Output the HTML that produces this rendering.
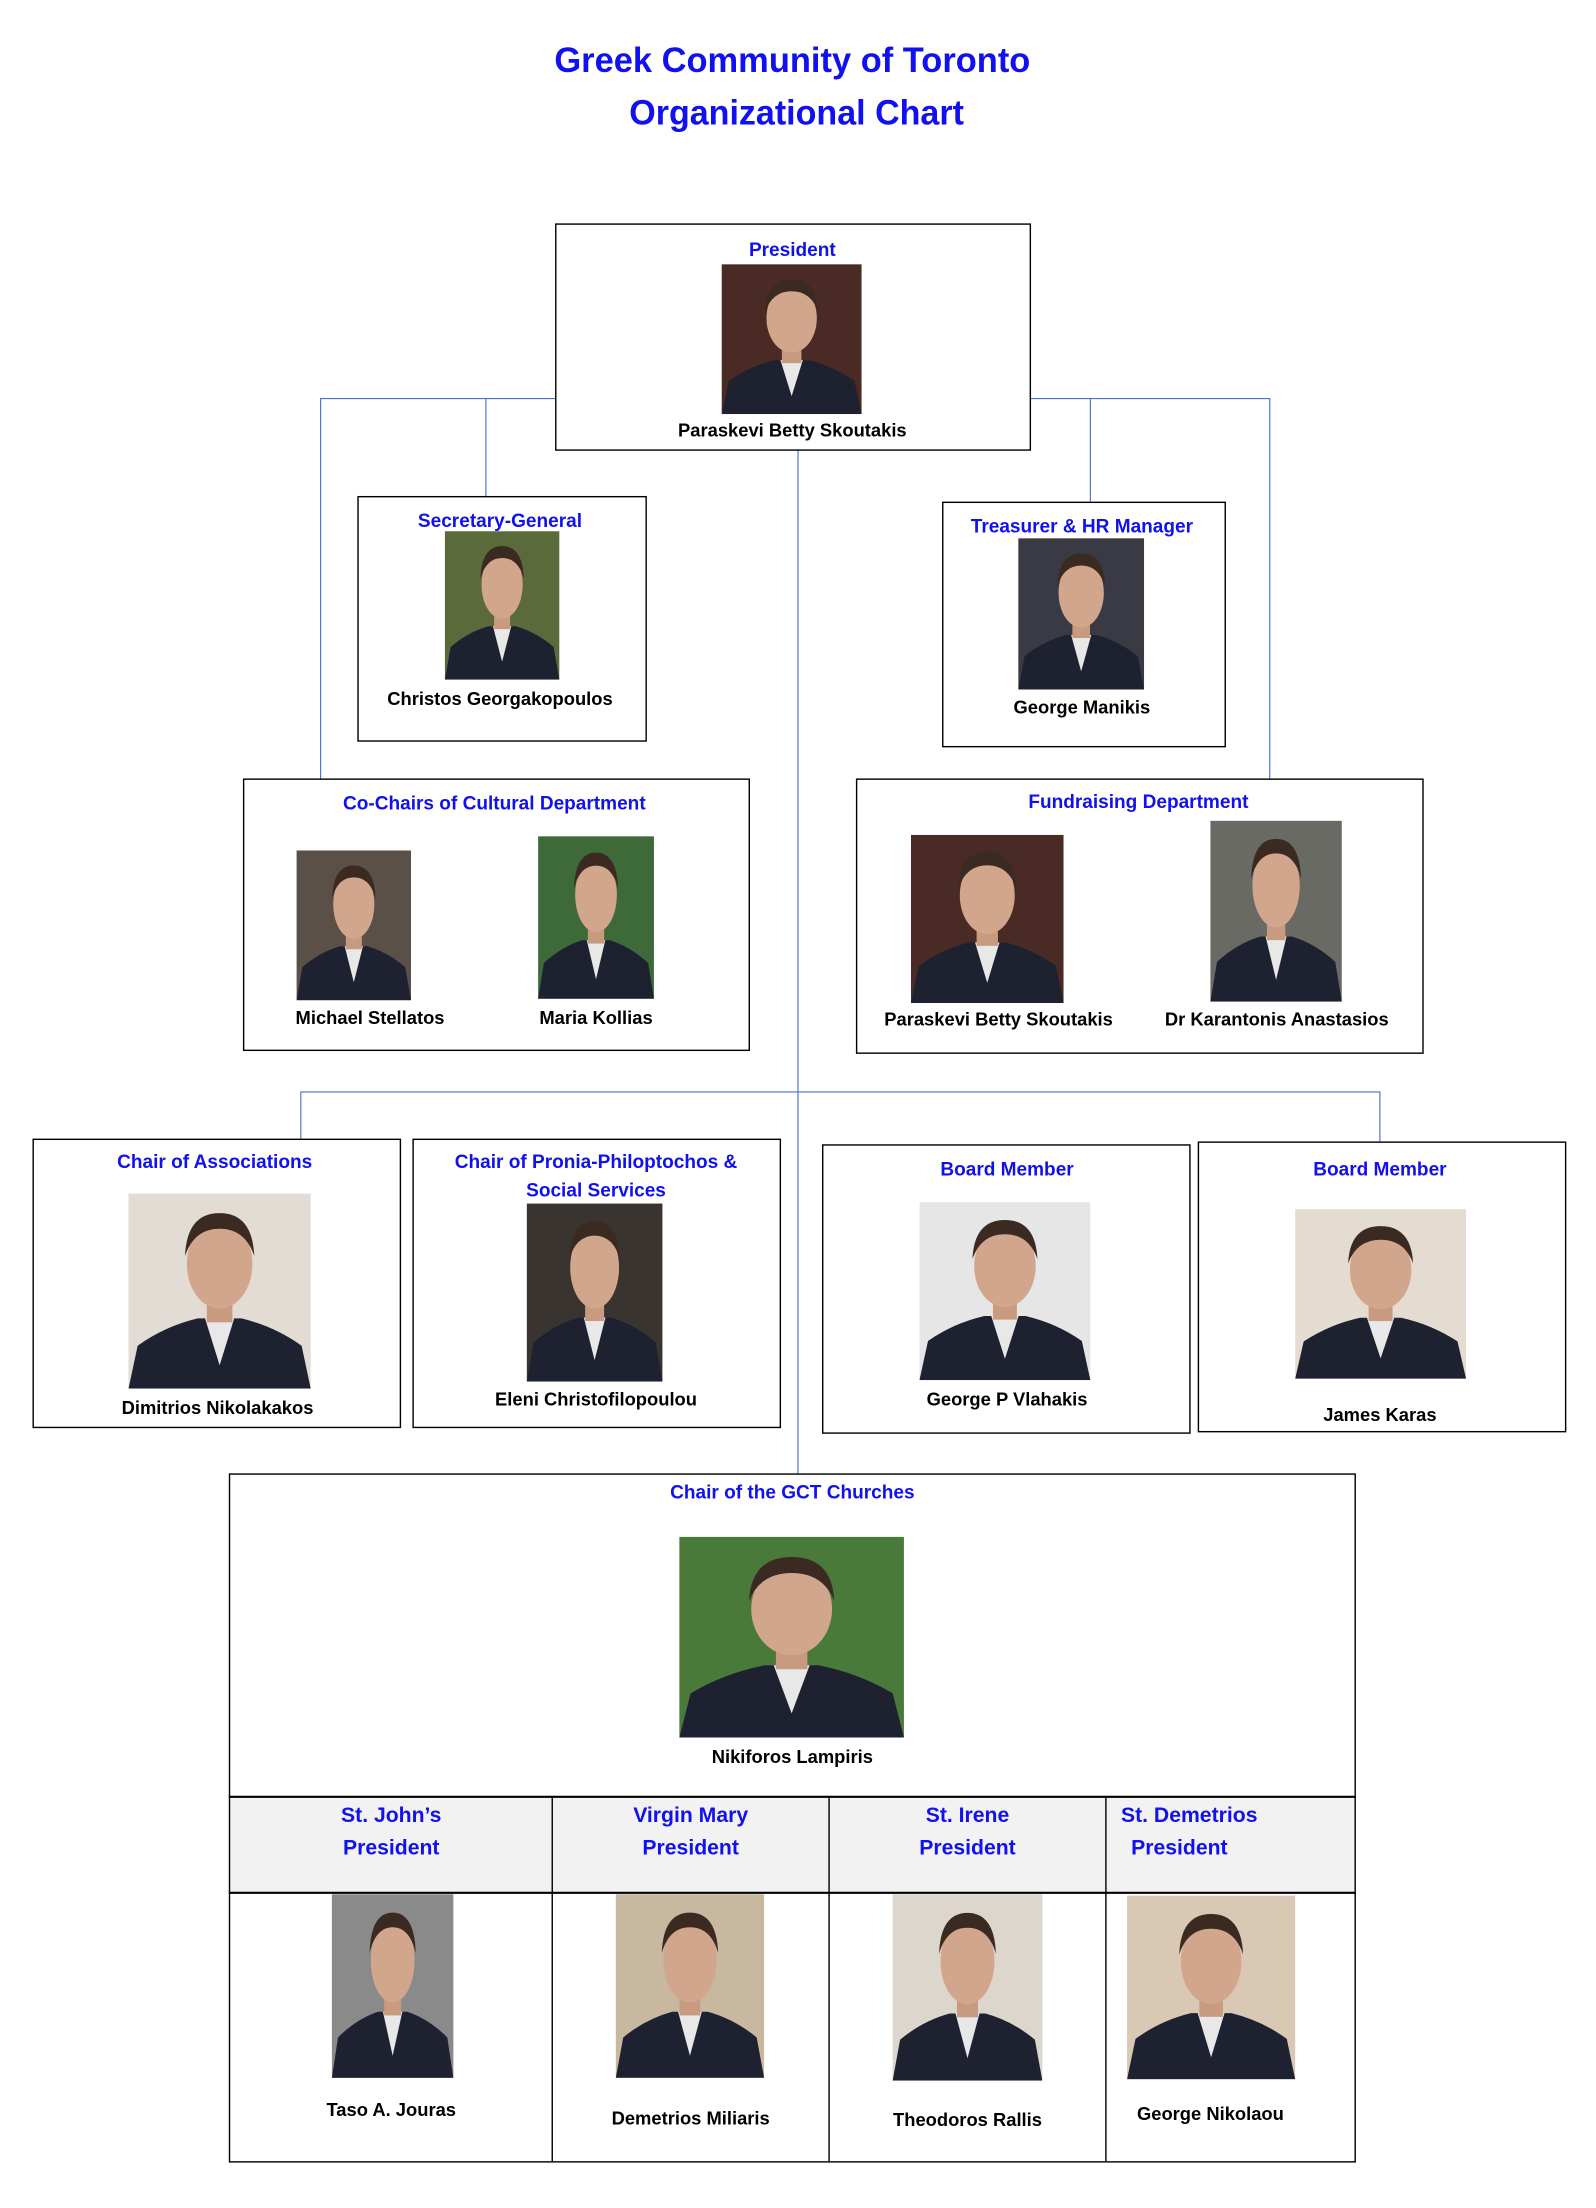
<!DOCTYPE html>
<html><head><meta charset="utf-8"><style>
html,body{margin:0;padding:0;background:#fff;}
svg{display:block;}
.t{font-family:"Liberation Sans",sans-serif;font-weight:bold;fill:#1010f0;font-size:13.5px;text-anchor:middle;}
.n{font-family:"Liberation Sans",sans-serif;font-weight:bold;fill:#000;font-size:13px;text-anchor:middle;}
.b{fill:none;stroke:#000;stroke-width:1;}
.c{stroke:#4472c4;stroke-width:0.8;fill:none;}
</style></head><body>
<svg width="1596" height="2208" viewBox="0 0 1130 1563" xmlns="http://www.w3.org/2000/svg">
<defs>
<symbol id="p" viewBox="0 0 100 100" preserveAspectRatio="none">
<path d="M0 100 L5 78 Q20 68 38 64 L62 64 Q80 68 95 78 L100 100Z" fill="#1e2230"/>
<path d="M42 64 L50 88 L58 64Z" fill="#e8e8e8"/>
<rect x="43" y="52" width="14" height="14" fill="#c89a80"/>
<ellipse cx="50" cy="36" rx="18" ry="23" fill="#d2a68c"/>
<path d="M31 32 Q32 10 50 10 Q68 10 69 32 Q64 18 50 18 Q36 18 31 32Z" fill="#3a2a22"/>
</symbol>
</defs>
<rect width="1130" height="1563" fill="#fff"/>
<text class="t" x="561" y="51" style="font-size:25px" textLength="337" lengthAdjust="spacingAndGlyphs">Greek Community of Toronto</text>
<text class="t" x="564" y="88" style="font-size:25px" textLength="237" lengthAdjust="spacingAndGlyphs">Organizational Chart</text>

<!-- connectors -->
<path class="c" d="M393 282 H227 V551 M344 282 V351 M729 282 H899 V551 M772 282 V355 M565 318 V1043 M213 806 V773 H977 V808"/>

<!-- President -->
<rect class="b" x="393.5" y="158.5" width="336" height="160"/>
<text class="t" x="561" y="181">President</text>
<rect x="511" y="187" width="99" height="106" fill="#4a2a24"/><use href="#p" x="511" y="187" width="99" height="106"/>
<text class="n" x="561" y="309">Paraskevi Betty Skoutakis</text>

<!-- Secretary -->
<rect class="b" x="253.5" y="351.5" width="204" height="173"/>
<text class="t" x="354" y="373">Secretary-General</text>
<rect x="315" y="376" width="81" height="105" fill="#5a6a3a"/><use href="#p" x="315" y="376" width="81" height="105"/>
<text class="n" x="354" y="499">Christos Georgakopoulos</text>

<!-- Treasurer -->
<rect class="b" x="667.5" y="355.5" width="200" height="173"/>
<text class="t" x="766" y="377">Treasurer &amp; HR Manager</text>
<rect x="721" y="381" width="89" height="107" fill="#3a3a44"/><use href="#p" x="721" y="381" width="89" height="107"/>
<text class="n" x="766" y="505">George Manikis</text>

<!-- Cultural -->
<rect class="b" x="172.5" y="551.5" width="358" height="192"/>
<text class="t" x="350" y="573">Co-Chairs of Cultural Department</text>
<rect x="210" y="602" width="81" height="106" fill="#5a5048"/><use href="#p" x="210" y="602" width="81" height="106"/>
<rect x="381" y="592" width="82" height="115" fill="#3e6a3a"/><use href="#p" x="381" y="592" width="82" height="115"/>
<text class="n" x="262" y="725">Michael Stellatos</text>
<text class="n" x="422" y="725">Maria Kollias</text>

<!-- Fundraising -->
<rect class="b" x="606.5" y="551.5" width="401" height="194"/>
<text class="t" x="806" y="572">Fundraising Department</text>
<rect x="645" y="591" width="108" height="119" fill="#4a2a24"/><use href="#p" x="645" y="591" width="108" height="119"/>
<rect x="857" y="581" width="93" height="128" fill="#6a6a64"/><use href="#p" x="857" y="581" width="93" height="128"/>
<text class="n" x="707" y="726">Paraskevi Betty Skoutakis</text>
<text class="n" x="904" y="726">Dr Karantonis Anastasios</text>

<!-- Row 3 -->
<rect class="b" x="23.5" y="806.5" width="260" height="204"/>
<text class="t" x="152" y="827">Chair of Associations</text>
<rect x="91" y="845" width="129" height="138" fill="#e2dcd4"/><use href="#p" x="91" y="845" width="129" height="138"/>
<text class="n" x="154" y="1001">Dimitrios Nikolakakos</text>

<rect class="b" x="292.5" y="806.5" width="260" height="204"/>
<text class="t" x="422" y="827">Chair of Pronia-Philoptochos &amp;</text>
<text class="t" x="422" y="847">Social Services</text>
<rect x="373" y="852" width="96" height="126" fill="#3a3430"/><use href="#p" x="373" y="852" width="96" height="126"/>
<text class="n" x="422" y="995">Eleni Christofilopoulou</text>

<rect class="b" x="582.5" y="810.5" width="260" height="204"/>
<text class="t" x="713" y="832">Board Member</text>
<rect x="651" y="851" width="121" height="126" fill="#e6e6e6"/><use href="#p" x="651" y="851" width="121" height="126"/>
<text class="n" x="713" y="995">George P Vlahakis</text>

<rect class="b" x="848.5" y="808.5" width="260" height="205"/>
<text class="t" x="977" y="832">Board Member</text>
<rect x="917" y="856" width="121" height="120" fill="#e4dcd0"/><use href="#p" x="917" y="856" width="121" height="120"/>
<text class="n" x="977" y="1006">James Karas</text>

<!-- Churches -->
<rect x="163" y="1272" width="796" height="68" fill="#f2f2f2"/>
<rect class="b" x="162.5" y="1043.5" width="797" height="487"/>
<path d="M162 1272 H960 M162 1340 H960" stroke="#000" stroke-width="1.5"/>
<path d="M391 1272 V1530 M587 1272 V1530 M783 1272 V1530" stroke="#000" stroke-width="1"/>
<text class="t" x="561" y="1061">Chair of the GCT Churches</text>
<rect x="481" y="1088" width="159" height="142" fill="#4a7a3a"/><use href="#p" x="481" y="1088" width="159" height="142"/>
<text class="n" x="561" y="1248">Nikiforos Lampiris</text>

<text class="t" x="277" y="1290" style="font-size:15px">St. John’s</text>
<text class="t" x="277" y="1313" style="font-size:15px">President</text>
<text class="t" x="489" y="1290" style="font-size:15px">Virgin Mary</text>
<text class="t" x="489" y="1313" style="font-size:15px">President</text>
<text class="t" x="685" y="1290" style="font-size:15px">St. Irene</text>
<text class="t" x="685" y="1313" style="font-size:15px">President</text>
<text class="t" x="842" y="1290" style="font-size:15px">St. Demetrios</text>
<text class="t" x="835" y="1313" style="font-size:15px">President</text>

<rect x="235" y="1341" width="86" height="130" fill="#8a8a8a"/><use href="#p" x="235" y="1341" width="86" height="130"/>
<rect x="436" y="1341" width="105" height="130" fill="#c8b8a0"/><use href="#p" x="436" y="1341" width="105" height="130"/>
<rect x="632" y="1341" width="106" height="132" fill="#dcd6cc"/><use href="#p" x="632" y="1341" width="106" height="132"/>
<rect x="798" y="1342" width="119" height="130" fill="#d8c8b4"/><use href="#p" x="798" y="1342" width="119" height="130"/>
<text class="n" x="277" y="1498">Taso A. Jouras</text>
<text class="n" x="489" y="1504">Demetrios Miliaris</text>
<text class="n" x="685" y="1505">Theodoros Rallis</text>
<text class="n" x="857" y="1501">George Nikolaou</text>
</svg>
</body></html>
